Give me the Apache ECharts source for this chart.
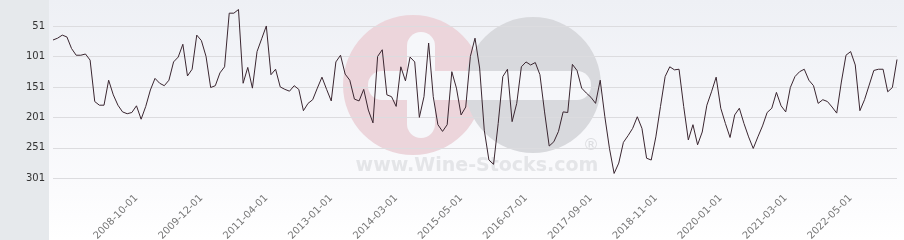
<!DOCTYPE html>
<html><head><meta charset="utf-8">
<script src="https://cdn.jsdelivr.net/npm/echarts@6/dist/echarts.min.js"></script>
<style>html,body{margin:0;padding:0;background:#fff}#c{width:904px;height:240px}</style>
</head><body><div id="c"></div>
<script>
const categories = [
'2007-04-01','2007-05-01','2007-06-01','2007-07-01','2007-08-01','2007-09-01','2007-10-01','2007-11-01','2007-12-01',
'2008-01-01','2008-02-01','2008-03-01','2008-04-01','2008-05-01','2008-06-01','2008-07-01','2008-08-01','2008-09-01','2008-10-01','2008-11-01','2008-12-01',
'2009-01-01','2009-02-01','2009-03-01','2009-04-01','2009-05-01','2009-06-01','2009-07-01','2009-08-01','2009-09-01','2009-10-01','2009-11-01','2009-12-01',
'2010-01-01','2010-02-01','2010-03-01','2010-04-01','2010-06-01','2010-07-01','2010-08-01','2010-09-01','2010-10-01','2010-11-01',
'2011-01-01','2011-02-01','2011-03-01','2011-04-01','2011-06-01','2011-07-01','2011-09-01','2011-10-01','2011-12-01',
'2012-01-01','2012-03-01','2012-04-01','2012-06-01','2012-07-01','2012-09-01','2012-10-01','2012-11-01',
'2013-01-01','2013-02-01','2013-03-01','2013-04-01','2013-05-01','2013-06-01','2013-07-01','2013-08-01','2013-09-01','2013-10-01','2013-11-01','2013-12-01',
'2014-01-01','2014-02-01','2014-03-01','2014-04-01','2014-05-01','2014-06-01','2014-07-01','2014-08-01','2014-09-01','2014-10-01','2014-11-01','2014-12-01',
'2015-01-01','2015-02-01','2015-03-01','2015-04-01','2015-05-01','2015-06-01','2015-07-01','2015-08-01','2015-09-01','2015-10-01','2015-11-01','2015-12-01',
'2016-01-01','2016-02-01','2016-03-01','2016-04-01','2016-05-01','2016-06-01','2016-07-01','2016-08-01','2016-09-01','2016-10-01','2016-11-01','2016-12-01',
'2017-01-01','2017-02-01','2017-03-01','2017-04-01','2017-05-01','2017-06-01','2017-07-01','2017-08-01','2017-09-01','2017-10-01','2017-11-01','2017-12-01',
'2018-01-01','2018-02-01','2018-03-01','2018-04-01','2018-05-01','2018-06-01','2018-07-01','2018-08-01','2018-09-01','2018-10-01','2018-11-01','2018-12-01',
'2019-01-01','2019-02-01','2019-03-01','2019-04-01','2019-05-01','2019-06-01','2019-07-01','2019-08-01','2019-09-01','2019-10-01','2019-11-01','2019-12-01',
'2020-01-01','2020-02-01','2020-03-01','2020-04-01','2020-05-01','2020-06-01','2020-07-01','2020-08-01','2020-09-01','2020-10-01','2020-11-01','2020-12-01',
'2021-01-01','2021-02-01','2021-03-01','2021-04-01','2021-05-01','2021-06-01','2021-07-01','2021-08-01','2021-09-01','2021-10-01','2021-11-01','2021-12-01',
'2022-01-01','2022-02-01','2022-03-01','2022-04-01','2022-05-01','2022-06-01','2022-07-01','2022-08-01','2022-09-01','2022-10-01','2022-11-01','2022-12-01',
'2023-01-01','2023-02-01','2023-03-01'
];
const ranks = [
74,71,66,69,88,99,99,97,107,175,181,181,140,164,181,192,195,193,182,204,183,156,137,
145,149,140,110,102,81,133,122,66,75,101,152,149,128,118,30,30,24,145,119,153,93,
72,
51,131,122,151,155,158,149,155,190,178,172,153,135,155,174,110,99,130,140,171,174,155,189,
210,101,90,164,167,183,118,141,102,110,201,167,79,167,213,224,213,126,153,197,184,101,
71,120,222,271,278,211,134,122,208,178,118,110,115,111,131,192,248,241,224,192,193,114,124,
153,161,168,178,140,200,252,293,276,242,231,219,200,219,268,271,233,183,134,118,123,122,183,
238,213,246,225,181,159,135,186,211,234,197,186,211,233,252,233,215,193,186,160,182,192,152,
134,126,122,140,149,178,172,175,184,194,143,99,93,115,190,172,148,124,122,122,159,152,106
];
const tickLabels = ['2008-10-01','2009-12-01','2011-04-01','2013-01-01','2014-03-01','2015-05-01',
  '2016-07-01','2017-09-01','2018-11-01','2020-01-01','2021-03-01','2022-05-01'];
const yTickLabels = [51,101,151,201,251,301];

const chart = echarts.init(document.getElementById('c'), null, {renderer:'canvas'});
const FONT = 'DejaVu Sans';
chart.setOption({
  animation: false,
  backgroundColor: {
    type:'linear', x:0, y:0, x2:0, y2:1,
    colorStops:[{offset:0,color:'#eef0f5'},{offset:0.8,color:'#fbfbfd'},{offset:1,color:'#ffffff'}]
  },
  graphic: [
    {type:'rect', z:-10, silent:true, shape:{x:0,y:0,width:49,height:240}, style:{fill:'#e6e9ec'}},
    {type:'circle', z:-9, silent:true, shape:{cx:413,cy:85,r:70}, style:{fill:'#ecd5db'}},
    {type:'circle', z:-9, silent:true, shape:{cx:533,cy:85,r:68}, style:{fill:'#d8d9dd'}},
    {type:'rect', z:-8, silent:true, shape:{x:368,y:71,width:223,height:29,r:14}, style:{fill:'#f6f7fa'}},
    {type:'rect', z:-8, silent:true, shape:{x:407,y:32,width:28,height:106,r:14}, style:{fill:'#f6f7fa'}},
    {type:'text', z:-8, silent:true, style:{x:477,y:166,text:'www.Wine-Stocks.com',fill:'#e4e5e8',
      font:'bold 19px "DejaVu Sans"',align:'center',verticalAlign:'middle'}},
    {type:'text', z:-8, silent:true, style:{x:591,y:146,text:'®',fill:'#dcdde0',
      font:'16px "DejaVu Sans"',align:'center',verticalAlign:'middle'}}
  ],
  grid: {left:53, right:7, top:-4.5, bottom:49.5, outerBoundsMode:'none', containLabel:false},
  xAxis: {
    type:'category', data:categories, boundaryGap:false,
    axisLine:{show:false}, axisTick:{show:false}, splitLine:{show:false},
    axisLabel:{
      rotate:45, margin:6, color:'#777', fontSize:10, fontFamily:FONT,
      interval:(idx, val) => tickLabels.indexOf(val) >= 0
    }
  },
  yAxis: {
    type:'value', inverse:true, min:1, max:321, interval:50,
    axisLine:{show:false}, axisTick:{show:false},
    axisLabel:{showMinLabel:false, showMaxLabel:false, margin:8, color:'#333', fontSize:10, fontFamily:FONT,
      formatter:v => yTickLabels.indexOf(v) >= 0 ? String(v) : ''},
    splitLine:{show:true, showMinLine:false, showMaxLine:false, lineStyle:{color:'#dcdcdf', width:1}}
  },
  series: [{
    type:'line', data:ranks, symbol:'none', smooth:false,
    lineStyle:{color:'#3a2630', width:1}
  }]
});
</script>
</body></html>
